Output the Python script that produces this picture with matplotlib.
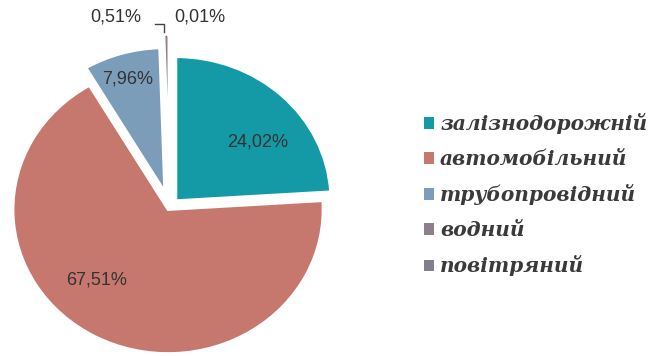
import matplotlib
matplotlib.use("Agg")
import matplotlib.pyplot as plt
from matplotlib.patches import Patch

categories = ["залізнодорожній", "автомобільний", "трубопровідний", "водний", "повітряний"]
shares = [24.02, 67.51, 7.96, 0.51, 0.01]
pct_labels = ["24,02%", "67,51%", "7,96%", "0,51%", "0,01%"]

colors = ["#149aa6", "#c6786f", "#7b9dba", "#8d7f8b", "#7f7f8f"]
explode = [0.06, 0.02, 0.11, 0.2, 0.2]

fig = plt.figure(figsize=(6.52, 3.56), dpi=100)
ax = fig.add_axes([0, 0, 1, 1])
wedges, _ = ax.pie(shares, colors=colors, explode=explode, startangle=90,
                   counterclock=False,
                   wedgeprops=dict(edgecolor="white", linewidth=2.0))
ax.set_aspect("auto")
cx, cy, sx, sy = 169.5, 207.0, 155.0, 144.0
W, H = 652.0, 356.0
ax.set_xlim(-cx / sx, (W - cx) / sx)
ax.set_ylim((cy - H) / sy, cy / sy)
ax.axis("off")

def px(x, y):
    return (x - cx) / sx, (cy - y) / sy

label_px = [(258, 142), (97, 280), (128, 79), (116, 17), (200, 17)]
for t, (lx, ly) in zip(pct_labels, label_px):
    ax.text(*px(lx, ly), t, ha="center", va="center", fontsize=13,
            family="Liberation Sans", color="#333333")

# leader line for small slice
lp = [px(155, 24), px(164, 24), px(164, 32)]
ax.plot([p[0] for p in lp], [p[1] for p in lp], color="#444444", lw=1)

handles = [Patch(facecolor=c, edgecolor="none") for c in colors]
fig.legend(handles, categories, loc="upper left", bbox_to_anchor=(424 / W, 1 - 113 / H),
           frameon=False, handlelength=0.5, handleheight=0.5, handletextpad=0.3,
           labelspacing=0.75, borderaxespad=0, borderpad=0,
           prop=dict(family="DejaVu Serif", style="italic", weight="bold", size=14.5),
           labelcolor="#3a3a3a")

fig.savefig("out.png", dpi=100)
